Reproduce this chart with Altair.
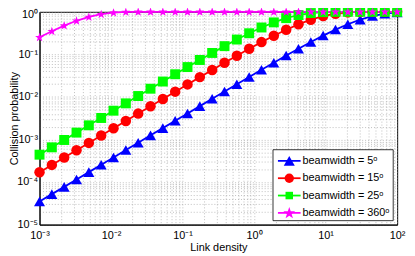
import altair as alt
import pandas as pd

# ---------------- data ----------------
x_vals = [0.001, 0.001487, 0.002212, 0.00329, 0.004894, 0.007279, 0.01083, 0.0161,
          0.02395, 0.03562, 0.05298, 0.0788, 0.1172, 0.1743, 0.2593, 0.3857, 0.5736,
          0.8532, 1.269, 1.887, 2.807, 4.175, 6.21, 9.237, 13.74, 20.43, 30.39, 45.2,
          67.23, 100]

p_5 = [3.5e-5, 5.2e-5, 7.7e-5, 1.15e-4, 1.71e-4, 2.55e-4, 3.79e-4, 5.64e-4, 8.38e-4,
       1.25e-3, 1.85e-3, 2.75e-3, 4.09e-3, 6.08e-3, 9.04e-3, 0.0134, 0.0199, 0.0294,
       0.0435, 0.0639, 0.0936, 0.136, 0.195, 0.276, 0.382, 0.511, 0.655, 0.795, 0.905,
       0.970]
p_15 = [1.7e-4, 2.53e-4, 3.76e-4, 5.59e-4, 8.32e-4, 1.24e-3, 1.84e-3, 2.73e-3, 4.06e-3,
        6.04e-3, 8.97e-3, 0.0133, 0.0197, 0.0292, 0.0431, 0.0635, 0.0929, 0.135, 0.194,
        0.275, 0.380, 0.508, 0.652, 0.792, 0.903, 0.969, 0.994, 0.9995, 1.0, 1.0]
p_25 = [4.4e-4, 6.54e-4, 9.73e-4, 1.45e-3, 2.15e-3, 3.2e-3, 4.75e-3, 7.06e-3, 0.0105,
        0.0156, 0.023, 0.0341, 0.0503, 0.0738, 0.108, 0.156, 0.223, 0.313, 0.428, 0.564,
        0.709, 0.841, 0.935, 0.983, 0.998, 1.0, 1.0, 1.0, 1.0, 1.0]
p_360 = [0.252, 0.350, 0.474, 0.615, 0.758, 0.879, 0.957, 0.991, 0.999, 1.0,
         1.0, 1.0, 1.0, 1.0, 1.0, 1.0, 1.0, 1.0, 1.0, 1.0,
         1.0, 1.0, 1.0, 1.0, 1.0, 1.0, 1.0, 1.0, 1.0, 1.0]

labels = ["beamwidth = 5ᵒ", "beamwidth = 15ᵒ", "beamwidth = 25ᵒ", "beamwidth = 360ᵒ"]
colors = ["#0000ff", "#ff0000", "#00ff00", "#ff00ff"]

STAR = ("M0,-0.95L0.235,-0.274L0.951,-0.259L0.380,0.174L0.588,0.859L0,0.45"
        "L-0.588,0.859L-0.380,0.174L-0.951,-0.259L-0.235,-0.274Z")
shapes = ["triangle-up", "circle", "square", STAR]
sizes = [125, 90, 58, 160]

x_title = "Link density"
y_title = "Collision probability"

# ---------------- tables ----------------
rows = []
for i, (lab, ys) in enumerate(zip(labels, [p_5, p_15, p_25, p_360])):
    for xv, yv in zip(x_vals, ys):
        rows.append({"x": xv, "y": yv, "series": lab, "order": i})
df = pd.DataFrame(rows)

W, H = 363, 216
FONT = "Liberation Sans"

sup = {"-": "⁻", "0": "⁰", "1": "¹", "2": "²", "3": "³", "4": "⁴", "5": "⁵"}


def label_expr(exps):
    # label only the decades, leave minor grid values blank
    expr = "''"
    for e in reversed(exps):
        s = "10" + "".join(sup[c] for c in str(e))
        v = 10.0 ** e
        expr = f"abs(datum.value - {v}) < {v * 1e-6} ? '{s}' : ({expr})"
    return expr


x_ticks = [k * 10.0 ** e for e in range(-3, 2) for k in range(1, 10)] + [100.0]
y_ticks = [k * 10.0 ** e for e in range(-5, 0) for k in range(1, 10)] + [1.0]

xscale = alt.Scale(type="log", domain=[1e-3, 1e2], nice=False)
yscale = alt.Scale(type="log", domain=[1e-5, 1], nice=False)
color = alt.Color("series:N", scale=alt.Scale(domain=labels, range=colors), legend=None)
shape = alt.Shape("series:N", scale=alt.Scale(domain=labels, range=shapes), legend=None)
size = alt.Size("series:N", scale=alt.Scale(domain=labels, range=sizes), legend=None)

xenc = alt.X("x:Q", scale=xscale,
             axis=alt.Axis(values=x_ticks, labelExpr=label_expr(list(range(-3, 3))),
                           title=x_title, ticks=False, labelPadding=5, titlePadding=1,
                           labelFlush=False, labelOverlap=False, orient="bottom"))
yenc = alt.Y("y:Q", scale=yscale,
             axis=alt.Axis(values=y_ticks, labelExpr=label_expr(list(range(-5, 1))),
                           title=y_title, ticks=False, labelPadding=2,
                           labelOffset={"condition": {"test": "datum.value >= 0.99",
                                                      "value": 3}, "value": 0},
                           titleX=-22, titleY=H / 2, titleBaseline="alphabetic",
                           labelOverlap=False, orient="left"))

base = alt.Chart(df)
lines = base.mark_line(strokeWidth=1.8).encode(x=xenc, y=yenc, color=color,
                                                 order="x:Q")
points = base.mark_point(filled=True, opacity=1, strokeWidth=0).encode(
    x=xenc, y=yenc, color=color, shape=shape, size=size, order="order:Q")

layers = [lines, points]

# ---------------- legend (pixel placed, inside plot) ----------------
one = pd.DataFrame({"k": [0]})
layers.append(alt.Chart(one).mark_rect(fill="white", stroke="black", strokeWidth=0.8).encode(
    x=alt.value(237), x2=alt.value(359), y=alt.value(140), y2=alt.value(212)))
for i, lab in enumerate(labels):
    py = 151.3 + i * 17.6
    layers.append(alt.Chart(one).mark_rule(strokeWidth=1.8, color=colors[i]).encode(
        x=alt.value(242), x2=alt.value(265), y=alt.value(py)))
    layers.append(alt.Chart(one).mark_point(filled=True, opacity=1, strokeWidth=0,
                                            color=colors[i], shape=shapes[i],
                                            size=sizes[i]).encode(
        x=alt.value(253.5), y=alt.value(py)))
    layers.append(alt.Chart(one).mark_text(align="left", baseline="middle", fontSize=11,
                                           font=FONT, color="black", text=lab).encode(
        x=alt.value(267), y=alt.value(py)))

chart = alt.layer(*layers).properties(
    width=W, height=H,
    autosize=alt.AutoSizeParams(type="none"),
    padding={"left": 32, "top": 2, "right": 10, "bottom": 30},
).configure_view(
    stroke="black", strokeWidth=1
).configure_axis(
    labelFont=FONT, labelFontSize=11, labelColor="black",
    titleFont=FONT, titleFontSize=11, titleColor="black", titleFontWeight="normal",
    domainColor="black", domainWidth=1,
    grid=True, gridDash=[1, 2], gridColor="#9a9a9a", gridWidth=0.7, gridOpacity=0.9,
)

chart.save("out.html", embed_options={"renderer": "svg", "actions": False})
